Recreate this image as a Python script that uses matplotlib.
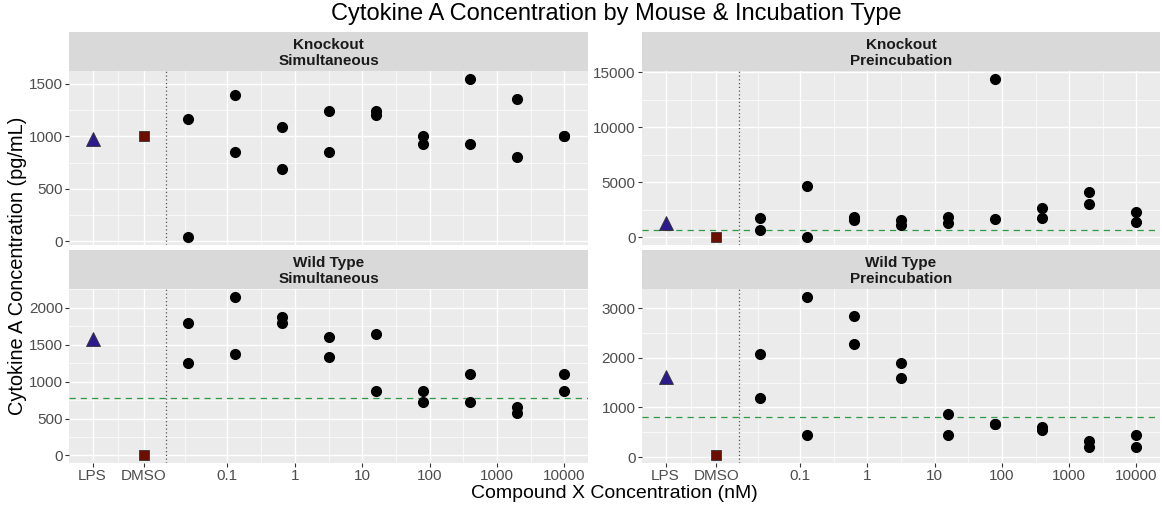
import numpy as np
import matplotlib.pyplot as plt

plt.rcParams['font.family'] = ['Liberation Sans', 'DejaVu Sans']

W, H = 1162, 505

# dilution series (nM) and pseudo positions for the controls
conc = [0.0256, 0.128, 0.64, 3.2, 16, 80, 400, 2000, 10000]
lps_x = 0.001
dmso_x = 0.0057
cut_x = 0.0123

tick_vals = [lps_x, dmso_x, 0.1, 1, 10, 100, 1000, 10000]
tick_labels = ['LPS', 'DMSO', '0.1', '1', '10', '100', '1000', '10000']

# two replicates per concentration (pg/mL)
ko_sim_a = [1163, 1395, 1086, 1239, 1239, 1006, 1548, 1357, 1003]
ko_sim_b = [41, 847, 688, 847, 1201, 924, 927, 806, 1003]
ko_sim_lps, ko_sim_dmso = 980, 1006

ko_pre_a = [1730, 4645, 1882, 1609, 1821, 14390, 2641, 4129, 2338]
ko_pre_b = [668, 30, 1548, 1153, 1305, 1700, 1730, 3066, 1366]
ko_pre_lps, ko_pre_dmso = 1300, 30
ko_pre_ref = 640

wt_sim_a = [1796, 2145, 1878, 1602, 1638, 873, 1100, 661, 1100]
wt_sim_b = [1253, 1367, 1792, 1330, 873, 724, 724, 570, 873]
wt_sim_lps, wt_sim_dmso = 1575, 5
wt_sim_ref = 783

wt_pre_a = [2083, 3229, 2852, 1888, 870, 661, 607, 317, 438]
wt_pre_b = [1187, 438, 2279, 1591, 438, 661, 553, 202, 202]
wt_pre_lps, wt_pre_dmso = 1610, 40
wt_pre_ref = 816

panels = [
    ('Knockout\nSimultaneous', ko_sim_a, ko_sim_b, ko_sim_lps, ko_sim_dmso, None, [0, 500, 1000, 1500], (69, 588, 32, 71, 245)),
    ('Knockout\nPreincubation', ko_pre_a, ko_pre_b, ko_pre_lps, ko_pre_dmso, ko_pre_ref, [0, 5000, 10000, 15000], (642, 1160, 32, 71, 245)),
    ('Wild Type\nSimultaneous', wt_sim_a, wt_sim_b, wt_sim_lps, wt_sim_dmso, wt_sim_ref, [0, 500, 1000, 1500, 2000], (69, 588, 250, 289, 463)),
    ('Wild Type\nPreincubation', wt_pre_a, wt_pre_b, wt_pre_lps, wt_pre_dmso, wt_pre_ref, [0, 1000, 2000, 3000], (642, 1160, 250, 289, 463)),
]


def px_axes(fig, x0, x1, y0, y1):
    return fig.add_axes([x0 / W, 1 - y1 / H, (x1 - x0) / W, (y1 - y0) / H])


def minor_between(b, lo, hi):
    # ggplot style: midpoints between majors, extended one step each side
    b = list(b)
    d = b[1] - b[0]
    if lo < b[0]:
        b = [b[0] - d] + b
    if hi > b[-1]:
        b = b + [b[-1] + d]
    m = [(b[i] + b[i + 1]) / 2 for i in range(len(b) - 1)]
    return [v for v in m if lo <= v <= hi]


fig = plt.figure(figsize=(W / 100, H / 100), dpi=100)

lx = np.log10(tick_vals)
xlo = lx.min() - 0.05 * (lx.max() - lx.min())
xhi = lx.max() + 0.05 * (lx.max() - lx.min())

for title, ya, yb, lps, dmso, ref, yticks, (x0, x1, s0, s1, p1) in panels:
    # strip
    st = px_axes(fig, x0, x1, s0, s1)
    st.set_facecolor('#D9D9D9')
    st.set_xticks([])
    st.set_yticks([])
    for sp in st.spines.values():
        sp.set_visible(False)
    st.text(0.5, 0.47, title, ha='center', va='center', fontsize=11,
            fontweight='bold', color='#1A1A1A', linespacing=1.2,
            transform=st.transAxes)

    ax = px_axes(fig, x0, x1, s1, p1)
    ax.set_facecolor('#EBEBEB')
    for sp in ax.spines.values():
        sp.set_visible(False)

    vals = ya + yb + [lps, dmso] + ([ref] if ref is not None else [])
    ylo = min(vals) - 0.05 * (max(vals) - min(vals))
    yhi = max(vals) + 0.05 * (max(vals) - min(vals))

    ax.set_xscale('log')
    ax.set_xlim(10 ** xlo, 10 ** xhi)
    ax.set_ylim(ylo, yhi)

    # grid
    for v in minor_between(lx, xlo, xhi):
        ax.axvline(10 ** v, color='white', lw=0.5, zorder=0)
    for v in lx:
        ax.axvline(10 ** v, color='white', lw=1.0, zorder=0)
    for v in minor_between(yticks, ylo, yhi):
        ax.axhline(v, color='white', lw=0.5, zorder=0)
    for v in yticks:
        ax.axhline(v, color='white', lw=1.0, zorder=0)

    ax.xaxis.set_minor_locator(plt.NullLocator())
    if p1 > 300:
        ax.set_xticks(tick_vals)
        ax.set_xticklabels(tick_labels)
    else:
        ax.set_xticks([])
    ax.set_yticks(yticks)
    ax.set_yticklabels([str(v) for v in yticks])
    ax.tick_params(length=3, width=0.8, color='#333333', labelcolor='#4D4D4D',
                   labelsize=11, pad=1.5)

    ax.axvline(cut_x, color='#555555', lw=0.9, ls=(0, (1, 2)), zorder=1)
    if ref is not None:
        ax.axhline(ref, color='#2E9A44', lw=0.9, ls=(0, (5, 4)), zorder=1)

    ax.plot(conc, ya, 'o', color='black', ms=7, zorder=3)
    ax.plot(conc, yb, 'o', color='black', ms=7, zorder=3)
    ax.plot([lps_x], [lps], '^', mfc='#2B1B8B', mec='#333333', mew=0.6, ms=9.5, zorder=3)
    ax.plot([dmso_x], [dmso], 's', mfc='#6B1000', mec='#333333', mew=0.6, ms=7, zorder=3)

fig.text(616 / W, 1 - 14 / H, 'Cytokine A Concentration by Mouse & Incubation Type',
         ha='center', va='center', fontsize=17, color='black')
fig.text(614 / W, 1 - 493 / H, 'Compound X Concentration (nM)',
         ha='center', va='center', fontsize=14, color='black')
fig.text(18 / W, 1 - 266 / H, 'Cytokine A Concentration (pg/mL)',
         ha='center', va='center', rotation=90, fontsize=14.4, color='black')

fig.savefig('out.png', dpi=100, facecolor='white')
